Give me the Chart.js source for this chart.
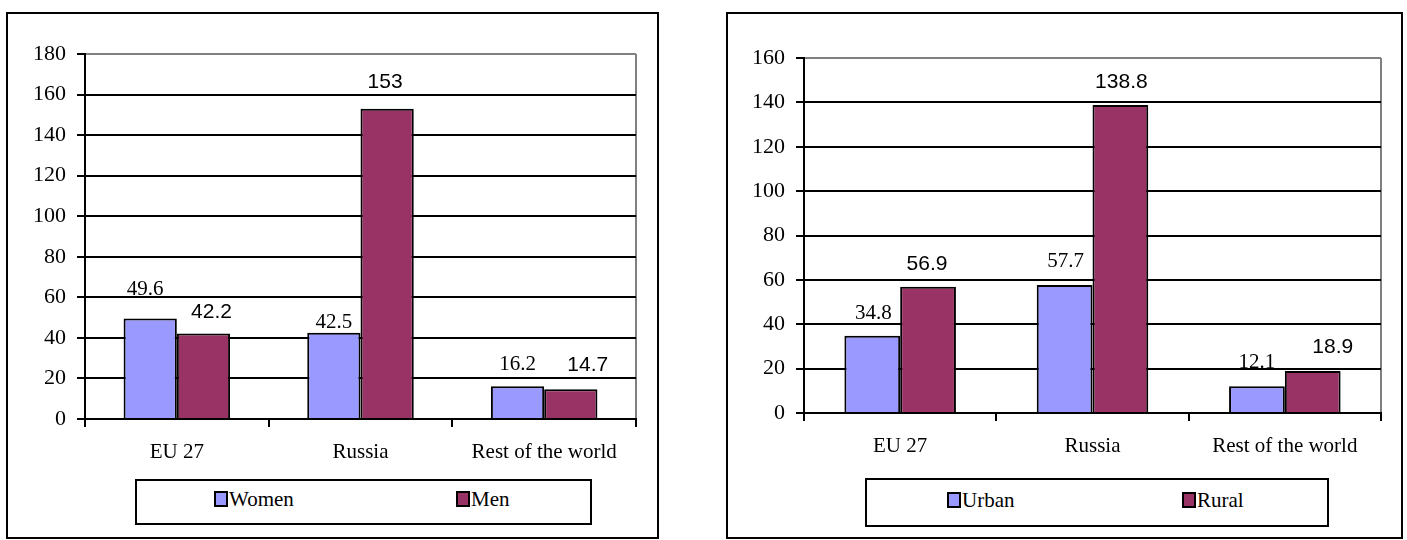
<!DOCTYPE html>
<html lang="en">
<head>
    <meta charset="UTF-8">
    <script src="https://cdn.jsdelivr.net/npm/chart.js@4.4.1/dist/chart.umd.min.js"></script>
    <title>Document</title>
    <style>
        body { margin: 0; background: #fff; width: 1407px; height: 540px; position: relative; overflow: hidden; }
        .frame { position: absolute; top: 12px; height: 527px; border: 2px solid #000; box-sizing: border-box; }
        .legend { position: absolute; border: 2px solid #000; box-sizing: border-box; }
        .sq { position: absolute; width: 14px; height: 16px; border: 2px solid #000; box-sizing: border-box; }
        .lt { position: absolute; font: 21px "Liberation Serif", serif; line-height: 21px; color: #000; white-space: nowrap; }
        canvas { position: absolute; top: 0; }
    </style>
</head>
<body>

    <div class="frame" style="left:6px; width:653px;"></div>
    <div class="frame" style="left:726px; width:677px;"></div>

    <div class="legend" style="left:135px; top:479px; width:457px; height:46px;"></div>
    <div class="sq" style="left:214px; top:491px; background:#9999FF;"></div>
    <div class="lt" style="left:229px; top:489px;" id="lg1a"></div>
    <div class="sq" style="left:456px; top:491px; background:#993366;"></div>
    <div class="lt" style="left:471px; top:489px;" id="lg1b"></div>

    <div class="legend" style="left:865px; top:478px; width:464px; height:49px;"></div>
    <div class="sq" style="left:947px; top:492px; background:#9999FF;"></div>
    <div class="lt" style="left:962px; top:490px;" id="lg2a"></div>
    <div class="sq" style="left:1182px; top:492px; background:#993366;"></div>
    <div class="lt" style="left:1197px; top:490px;" id="lg2b"></div>

    <canvas id="chart1" width="700" height="540" style="left:0px; width:700px; height:540px;"></canvas>
    <canvas id="chart2" width="707" height="540" style="left:700px; width:707px; height:540px;"></canvas>

    <script>
    const regions = ['EU 27', 'Russia', 'Rest of the world'];

    const women = [49.6, 42.5, 16.2];
    const men = [42.2, 153, 14.7];
    const yTicksLeft = [0, 20, 40, 60, 80, 100, 120, 140, 160, 180];

    const urban = [34.8, 57.7, 12.1];
    const rural = [56.9, 138.8, 18.9];
    const yTicksRight = [0, 20, 40, 60, 80, 100, 120, 140, 160];

    // label nudges [dx, height of baseline above bar top]
    const womenLbl = [[-5, 23], [0, 5], [0, 16]];
    const menLbl = [[8, 15], [-2, 21], [17, 18]];
    const urbanLbl = [[1, 17], [1, 18], [0, 18]];
    const ruralLbl = [[-1, 17], [1, 17], [20, 18]];

    const blue = '#9999FF';
    const plum = '#993366';

    document.getElementById('lg1a').textContent = 'Women';
    document.getElementById('lg1b').textContent = 'Men';
    document.getElementById('lg2a').textContent = 'Urban';
    document.getElementById('lg2b').textContent = 'Rural';

    const valueLabels = {
        id: 'valueLabels',
        afterDatasetsDraw(chart) {
            const ctx = chart.ctx;
            chart.data.datasets.forEach((ds, i) => {
                const meta = chart.getDatasetMeta(i);
                ctx.save();
                ctx.font = '21px ' + ds.lblFont;
                ctx.fillStyle = '#000';
                ctx.textAlign = 'center';
                ctx.textBaseline = 'alphabetic';
                meta.data.forEach((bar, j) => {
                    const nudge = ds.lbl[j];
                    ctx.fillText(String(ds.data[j]), bar.x + nudge[0], bar.y - nudge[1]);
                });
                ctx.restore();
            });
        }
    };

    function makeChart(id, a, b, ticks, layout) {
        const tickVals = ticks;
        return new Chart(document.getElementById(id).getContext('2d'), {
            type: 'bar',
            data: {
                labels: regions,
                datasets: [
                    {
                        label: a.name,
                        data: a.data,
                        backgroundColor: blue,
                        borderColor: '#000',
                        borderWidth: 2,
                        lbl: a.lbl,
                        lblFont: '"Liberation Serif", serif'
                    },
                    {
                        label: b.name,
                        data: b.data,
                        backgroundColor: plum,
                        borderColor: '#000',
                        borderWidth: 2,
                        lbl: b.lbl,
                        lblFont: '"Liberation Sans", sans-serif'
                    }
                ]
            },
            options: {
                responsive: false,
                animation: false,
                events: [],
                categoryPercentage: 0.58,
                barPercentage: 1.0,
                layout: { padding: { left: 0, top: layout.top, right: layout.right, bottom: 0 } },
                plugins: { legend: { display: false }, tooltip: { enabled: false } },
                scales: {
                    x: {
                        afterFit: s => { s.height = layout.xh; },
                        grid: {
                            offset: true,
                            drawOnChartArea: true,
                            color: c => (c.type === 'tick' ? 'rgba(0,0,0,0)' : '#808080'),
                            lineWidth: 2,
                            tickColor: '#000',
                            tickLength: 8
                        },
                        border: { color: '#000', width: 2 },
                        ticks: {
                            color: '#000',
                            padding: 13,
                            font: { family: '"Liberation Serif", serif', size: 21 }
                        }
                    },
                    y: {
                        min: 0,
                        max: tickVals[tickVals.length - 1],
                        afterFit: s => { s.width = layout.yw; },
                        afterBuildTicks: s => { s.ticks = tickVals.map(v => ({ value: v })); },
                        grid: {
                            color: c => (c.tick && c.tick.value === tickVals[tickVals.length - 1] ? '#808080' : '#000'),
                            lineWidth: 2,
                            tickColor: '#000',
                            tickLength: 8
                        },
                        border: { color: '#000', width: 2 },
                        ticks: {
                            color: '#000',
                            padding: 11,
                            font: { family: '"Liberation Serif", serif', size: 22 }
                        }
                    }
                }
            },
            plugins: [valueLabels]
        });
    }

    makeChart('chart1',
        { name: 'Women', data: women, lbl: womenLbl },
        { name: 'Men', data: men, lbl: menLbl },
        yTicksLeft,
        { top: 54, right: 64, xh: 121, yw: 85 });

    makeChart('chart2',
        { name: 'Urban', data: urban, lbl: urbanLbl },
        { name: 'Rural', data: rural, lbl: ruralLbl },
        yTicksRight,
        { top: 58, right: 26, xh: 127, yw: 104 });
    </script>
</body>
</html>
